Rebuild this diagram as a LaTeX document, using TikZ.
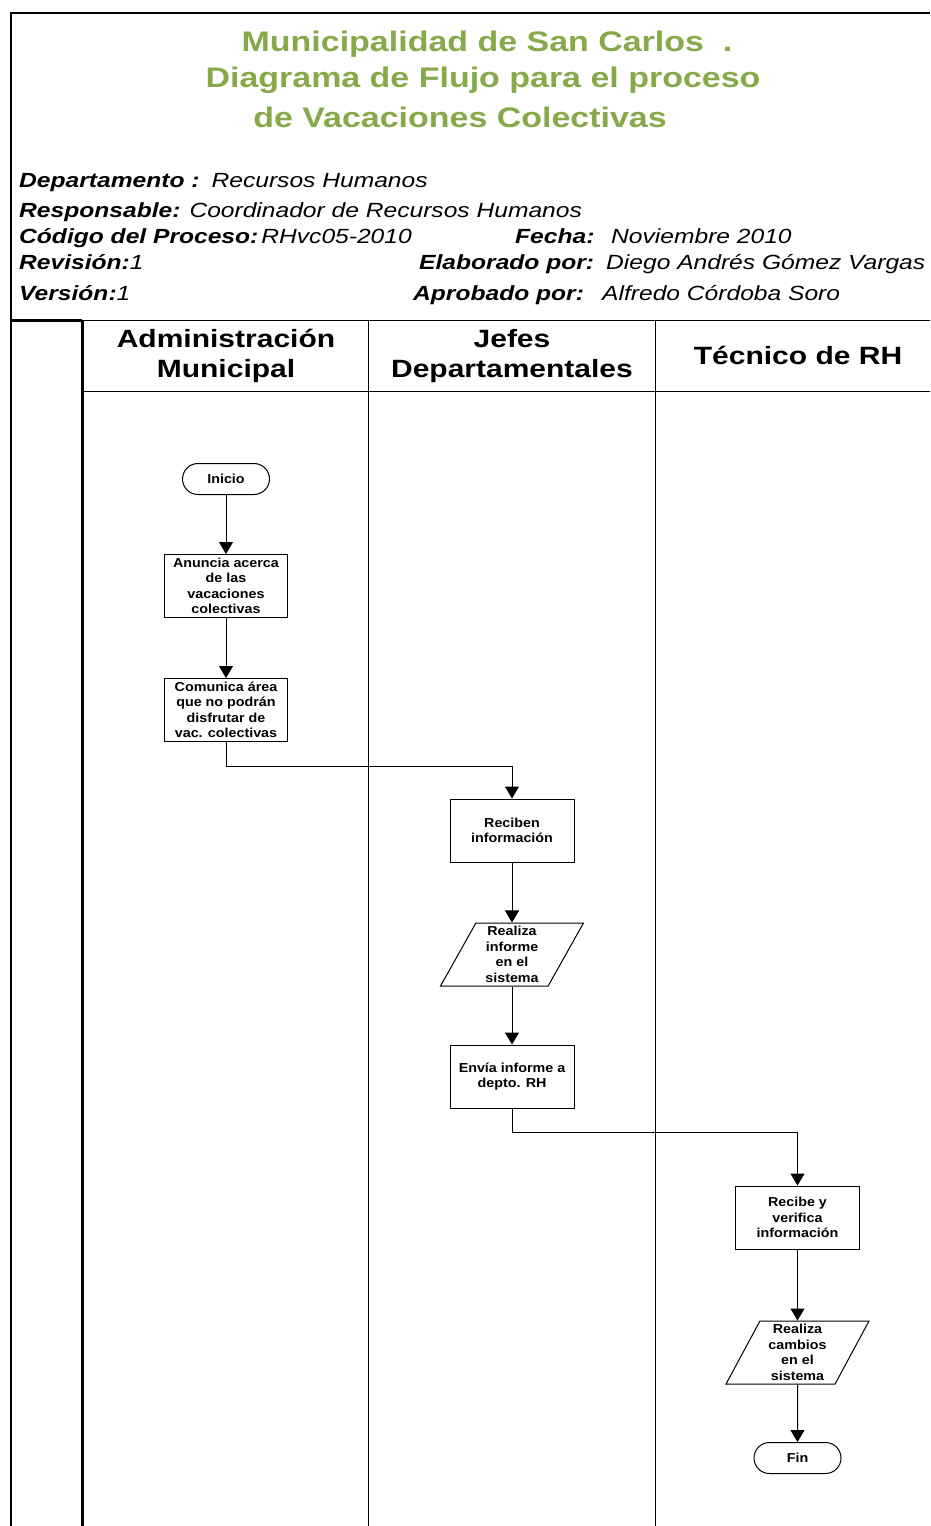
\documentclass[tikz,border=0pt]{standalone}
\usepackage{fontspec}
\setmainfont{Liberation Sans}
\newfontfamily\wideface[FakeStretch=1.2]{Liberation Sans}
\newfontfamily\boxface[FakeStretch=1.1]{Liberation Sans}
\usepackage{tikz}
\usetikzlibrary{positioning,shapes.geometric,shapes.misc,arrows.meta}
\definecolor{titlegreen}{RGB}{134,169,73}
\newcommand\titletext{\wideface\bfseries\fontsize{28.3}{36.5}\selectfont}
\newcommand\headtext{\wideface\bfseries\fontsize{25}{30}\selectfont}
\newcommand\infotext{\wideface\itshape\fontsize{20.5}{24}\selectfont}
\newcommand\boxtext{\boxface\bfseries\fontsize{13}{15.5}\selectfont}

\begin{document}
\begin{tikzpicture}[
    x=1pt, y=-1pt,
    title/.style={
      text=titlegreen,
      font=\titletext,
      inner sep=0pt
      },
    head/.style={
      font=\headtext,
      align=center,
      inner sep=0pt
      },
    info/.style={
      font=\infotext,
      anchor=base west,
      inner sep=0pt
      },
    proc/.style={
      draw,
      rectangle,
      line width=1pt,
      minimum width=124pt,
      minimum height=63pt,
      inner sep=2pt,
      align=center,
      font=\boxtext
      },
    io/.style={
      draw,
      trapezium,
      trapezium left angle=65,
      trapezium right angle=115,
      trapezium stretches=true,
      line width=1pt,
      minimum width=143pt,
      minimum height=63pt,
      inner sep=1pt,
      align=center,
      font=\boxtext
      },
    term/.style={
      draw,
      rounded rectangle,
      line width=1pt,
      minimum width=89pt,
      minimum height=31pt,
      inner sep=1pt,
      font=\boxtext
      },
    frame/.style={line width=2pt},
    lane/.style={line width=1pt},
    flow/.style={->, line width=1pt},
    >={Triangle[length=12pt,width=14pt]}
    ]
    \useasboundingbox (0,0) rectangle (930,1526);

    % frame and lanes
    \draw[frame] (930,13) -- (11,13) -- (11,1526);
    \draw[lane] (11,320) -- (930,320);
    \draw[line width=3pt] (11,320) -- (82,320);
    \draw[line width=3pt] (82,320) -- (82,1526);
    \draw[lane] (82,391) -- (930,391);
    \foreach \lx in {368,655}
      \draw[lane] (\lx,320) -- (\lx,1526);

    % title
    \node[title] (titlea) at (487,44) {Municipalidad de San Carlos\ \ .};
    \node[title] (titleb) at (483,80) {Diagrama de Flujo para el proceso};
    \node[title] (titlec) at (460,117) {de Vacaciones Colectivas};

    % process data
    \node[info] (dept) at (19,187) {\bfseries Departamento :\hspace{12pt}\mdseries Recursos Humanos};
    \node[info] (resp) at (19,217) {\bfseries Responsable:\hspace{9pt}\mdseries Coordinador de Recursos Humanos};
    \node[info] (codigo) at (19,243) {\bfseries Código del Proceso:\hspace{3pt}\mdseries RHvc05-2010};
    \node[info] (fecha) at (515,243) {\bfseries Fecha:};
    \node[info] (fechaval) at (611,243) {Noviembre 2010};
    \node[info] (revision) at (19,269) {\bfseries Revisión:\mdseries 1};
    \node[info] (elab) at (419,269) {\bfseries Elaborado por:};
    \node[info] (elabval) at (606,269) {Diego Andrés Gómez Vargas};
    \node[info] (version) at (19,300) {\bfseries Versión:\mdseries 1};
    \node[info] (aprob) at (413,300) {\bfseries Aprobado por:};
    \node[info] (aprobval) at (602,300) {Alfredo Córdoba Soro};

    % lane headers
    \node[head] (admin) at (226,356) {Administración\\Municipal};
    \node[head] (jefes) at (512,356) {Jefes\\Departamentales};
    \node[head] (tecnico) at (798,355) {Técnico de RH};

    % flow
    \node[term] (inicio) at (226,479) {Inicio};
    \node[proc, minimum width=123pt] (anuncia) at (226,586) {Anuncia acerca\\de las\\vacaciones\\colectivas};
    \node[proc, minimum width=123pt] (comunica) at (226,710) {Comunica área\\que no podrán\\disfrutar de\\vac. colectivas};
    \node[proc] (reciben) at (512,830.5) {Reciben\\información};
    \node[io] (informe) at (512,954.5) {Realiza\\informe\\en el\\sistema};
    \node[proc] (envia) at (512,1076.5) {Envía informe a\\depto. RH};
    \node[proc] (verifica) at (797.5,1217.5) {Recibe y\\verifica\\información};
    \node[io] (cambios) at (797.5,1352.5) {Realiza\\cambios\\en el\\sistema};
    \node[term] (fin) at (797.5,1458) {Fin};

    \draw[flow] (inicio) -- (anuncia);
    \draw[flow] (anuncia) -- (comunica);
    \draw[flow] (comunica.south) -- ++(0,24) -| (reciben.north);
    \draw[flow] (reciben) -- (informe);
    \draw[flow] (informe) -- (envia);
    \draw[flow] (envia.south) -- ++(0,24) -| (verifica.north);
    \draw[flow] (verifica) -- (cambios);
    \draw[flow] (cambios) -- (fin);
\end{tikzpicture}
\end{document}
